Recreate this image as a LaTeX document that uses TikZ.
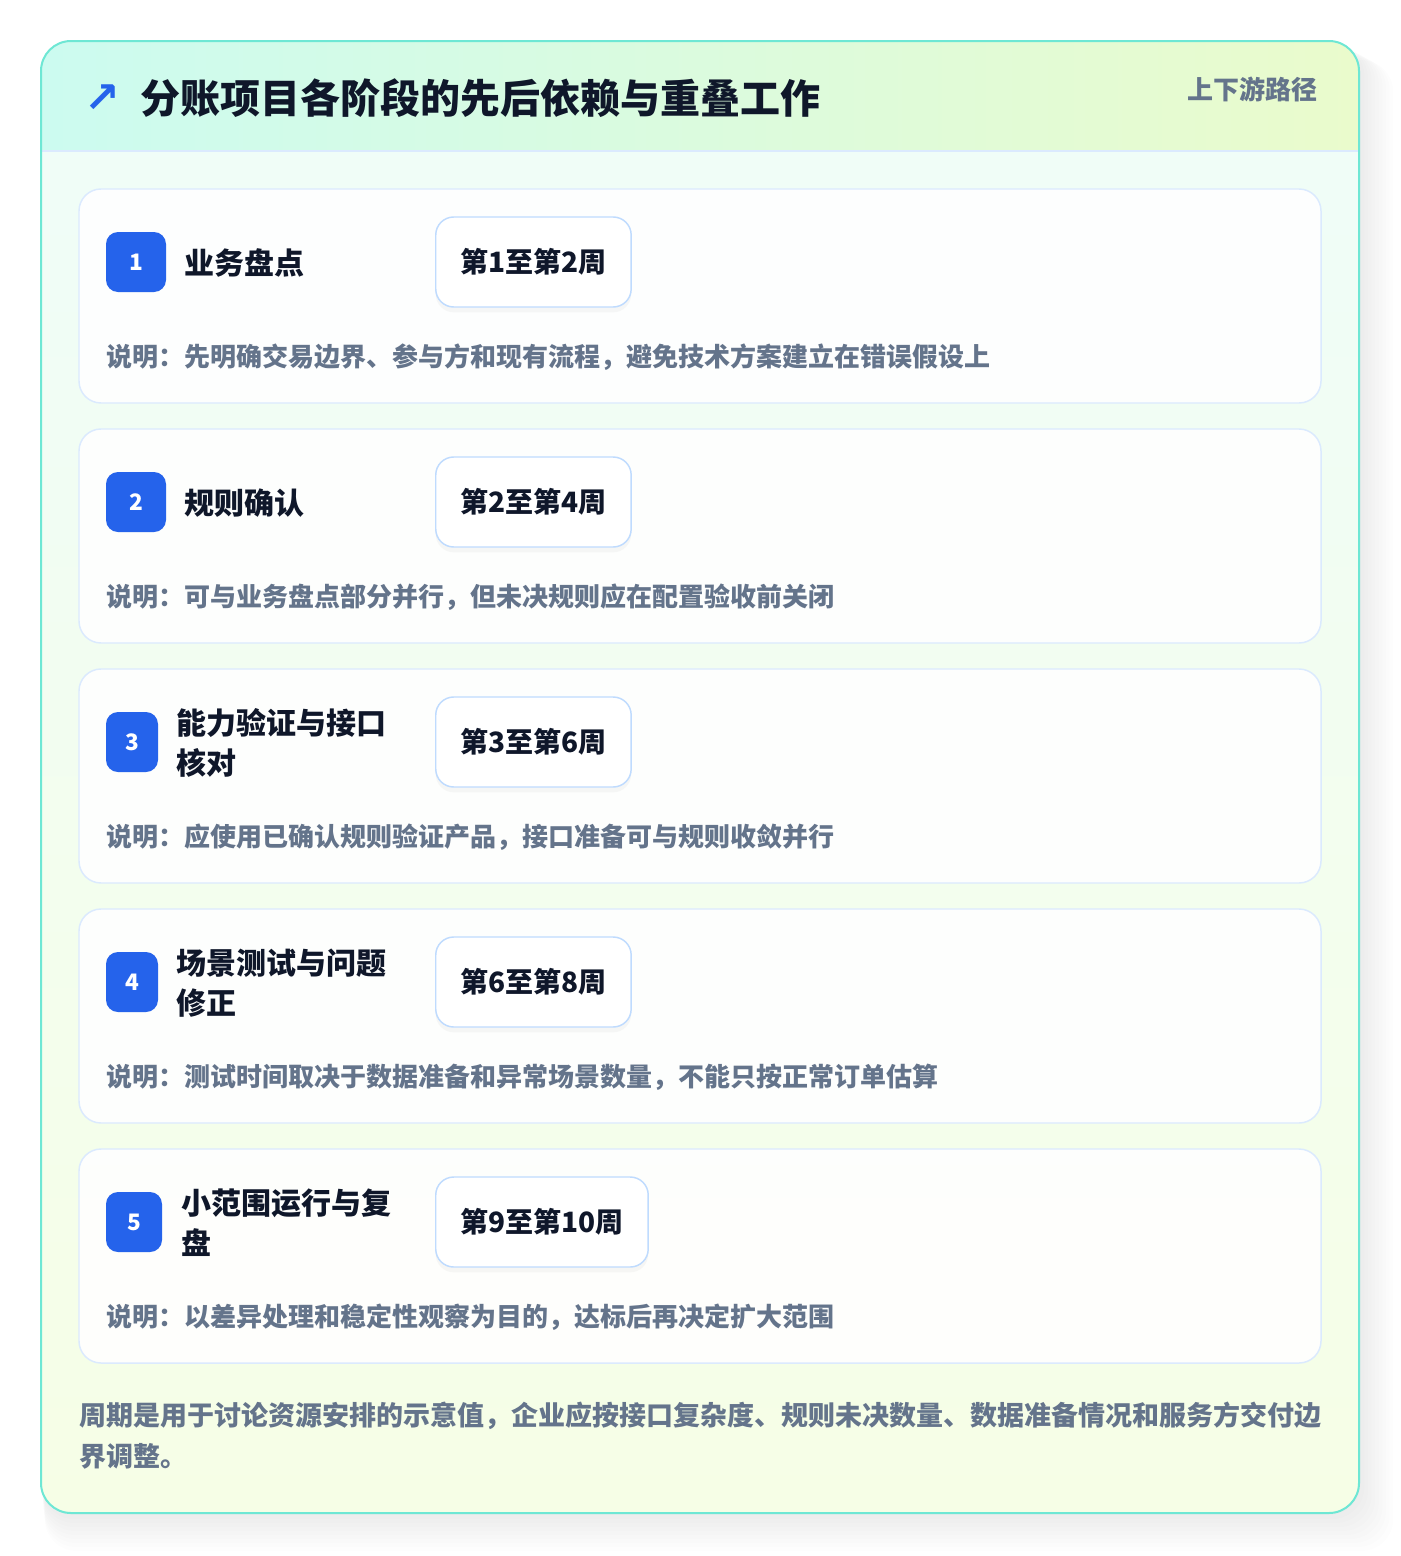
\documentclass[tikz,border=0pt]{standalone}
\usepackage{fontspec}
\setmainfont{Noto Sans CJK SC}
\newfontfamily\symfont{DejaVu Sans}
\usetikzlibrary{shadows}
\definecolor{frameteal}{HTML}{6EE7D4}
\definecolor{hdleft}{HTML}{CCFBF0}
\definecolor{hdright}{HTML}{EAFBCC}
\definecolor{bodytop}{HTML}{EFFDF9}
\definecolor{bodybot}{HTML}{F6FEE6}
\definecolor{cardline}{HTML}{DBEAFE}
\definecolor{pillline}{HTML}{BFDBFE}
\definecolor{badgeblue}{HTML}{2563EB}
\definecolor{inkdark}{HTML}{0F172A}
\definecolor{inkgray}{HTML}{64748B}
\definecolor{shadowgray}{HTML}{475569}
\begin{document}
\begin{tikzpicture}[x=0.75pt,y=-0.75pt,
    cardbox/.style={draw=cardline, line width=1.1pt, fill=white, fill opacity=0.9, rounded corners=16.5pt},
    badge/.style={fill=badgeblue, rounded corners=9pt, text=white, inner sep=0pt,
      minimum height=45pt, font=\bfseries\fontsize{17}{18}\selectfont},
    phase/.style={anchor=west, inner sep=0pt, align=left, text=inkdark,
      font=\bfseries\fontsize{22.5}{30}\selectfont},
    weekpill/.style={anchor=west, draw=pillline, line width=1.1pt, fill=white, rounded corners=13.5pt,
      inner xsep=18.5pt, minimum height=67.5pt, text=inkdark, font=\bfseries\fontsize{21}{24}\selectfont,
      drop shadow={opacity=0.06, shadow xshift=0pt, shadow yshift=-4pt}},
    note/.style={anchor=west, inner sep=0pt, text=inkgray, font=\bfseries\fontsize{19.5}{24}\selectfont}]
  \useasboundingbox (0,0) rectangle (1400,1556);
  \fill[white] (0,0) rectangle (1400,1556);
  % soft shadow of the frame
  \foreach \s in {2,6,...,38}
    \fill[shadowgray, opacity=0.009, rounded corners=24pt] ({41+\s*0.1},{41+\s*0.5}) rectangle ({1359+\s*0.9},{1513+\s});
  % frame
  \shade[top color=bodytop, bottom color=bodybot, rounded corners=22.5pt] (41,41) rectangle (1359,1513);
  \begin{scope}
    \clip[rounded corners=22.5pt] (41,41) rectangle (1359,1513);
    \shade[left color=hdleft, right color=hdright] (41,41) rectangle (1359,151);
  \end{scope}
  \draw[cardline, line width=1.1pt] (42,151) -- (1358,151);
  \draw[frameteal, line width=1.5pt, rounded corners=22.5pt] (41,41) rectangle (1359,1513);
  % header
  \node[text=badgeblue, inner sep=0pt, font=\symfont\bfseries\fontsize{32}{32}\selectfont] (icon) at (102,99) {↗};
  \node[anchor=west, inner sep=0pt, text=inkdark, font=\bfseries\fontsize{30}{36}\selectfont] (title) at (140,98)
    {分账项目各阶段的先后依赖与重叠工作};
  \node[anchor=east, inner sep=0pt, text=inkgray, font=\bfseries\fontsize{19.5}{24}\selectfont] (tag) at (1318,89)
    {上下游路径};
  % phase 1
  \draw[cardbox] (79,189) rectangle (1321,403);
  \node[badge, minimum width=45pt] (badge1) at (136,262) {1};
  \node[phase] (phase1) at (184,263) {业务盘点};
  \node[weekpill] (week1) at (435,262) {第1至第2周};
  \node[note] (note1) at (106,357) {说明：先明确交易边界、参与方和现有流程，避免技术方案建立在错误假设上};
  % phase 2
  \draw[cardbox] (79,429) rectangle (1321,643);
  \node[badge, minimum width=45pt] (badge2) at (136,502) {2};
  \node[phase] (phase2) at (184,503) {规则确认};
  \node[weekpill] (week2) at (435,502) {第2至第4周};
  \node[note] (note2) at (106,597) {说明：可与业务盘点部分并行，但未决规则应在配置验收前关闭};
  % phase 3
  \draw[cardbox] (79,669) rectangle (1321,883);
  \node[badge, minimum width=39pt] (badge3) at (132,742) {3};
  \node[phase] (phase3) at (176,743) {能力验证与接口\\核对};
  \node[weekpill] (week3) at (435,742) {第3至第6周};
  \node[note] (note3) at (106,837) {说明：应使用已确认规则验证产品，接口准备可与规则收敛并行};
  % phase 4
  \draw[cardbox] (79,909) rectangle (1321,1123);
  \node[badge, minimum width=39pt] (badge4) at (132,982) {4};
  \node[phase] (phase4) at (176,983) {场景测试与问题\\修正};
  \node[weekpill] (week4) at (435,982) {第6至第8周};
  \node[note] (note4) at (106,1077) {说明：测试时间取决于数据准备和异常场景数量，不能只按正常订单估算};
  % phase 5
  \draw[cardbox] (79,1149) rectangle (1321,1363);
  \node[badge, minimum width=42pt] (badge5) at (134,1222) {5};
  \node[phase] (phase5) at (181,1223) {小范围运行与复\\盘};
  \node[weekpill] (week5) at (435,1222) {第9至第10周};
  \node[note] (note5) at (106,1317) {说明：以差异处理和稳定性观察为目的，达标后再决定扩大范围};
  % footer
  \node[anchor=west, inner sep=0pt, align=left, text=inkgray, font=\bfseries\fontsize{20.25}{30.75}\selectfont] (footnote) at (79,1436)
    {周期是用于讨论资源安排的示意值，企业应按接口复杂度、规则未决数量、数据准备情况和服务方交付边\\界调整。};
\end{tikzpicture}
\end{document}
